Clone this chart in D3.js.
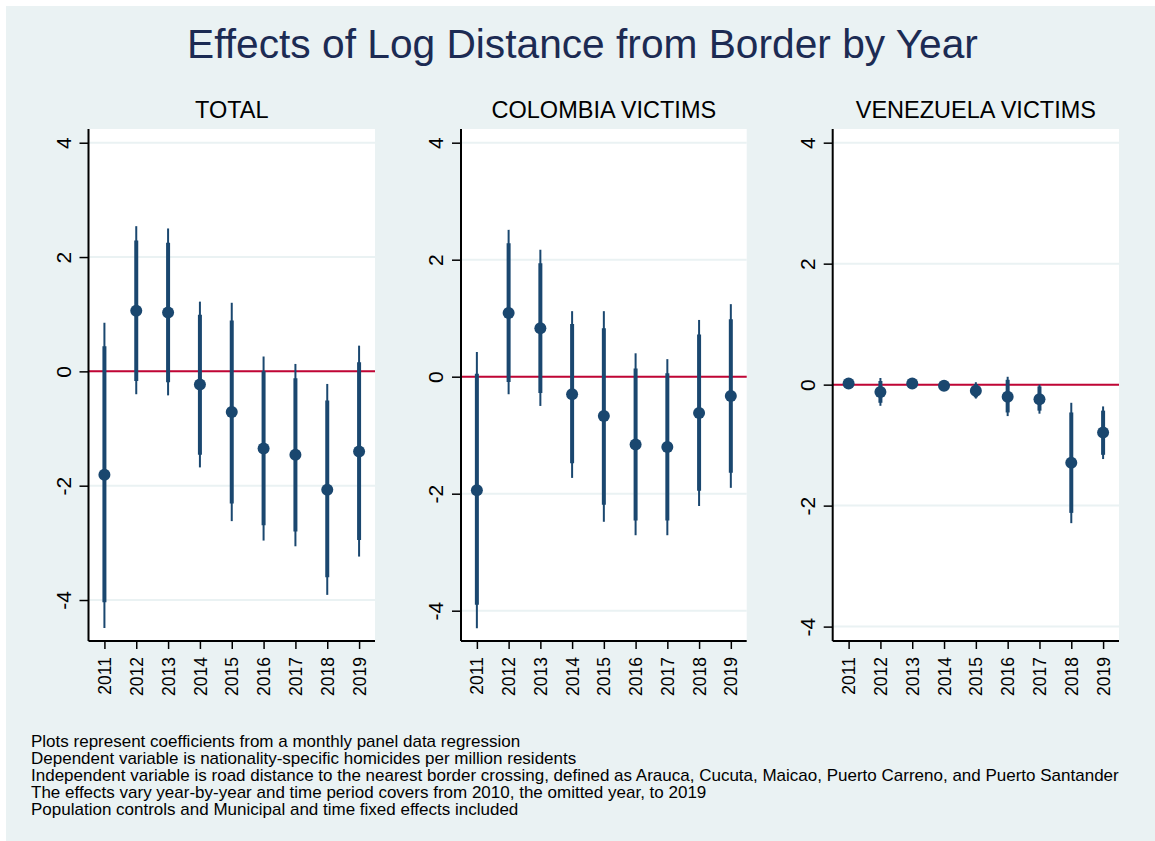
<!DOCTYPE html>
<html>
<head>
<meta charset="utf-8">
<script src="https://cdn.jsdelivr.net/npm/d3@7"></script>
<style>
  html, body { margin: 0; padding: 0; background: #ffffff; }
  svg { display: block; font-family: "Liberation Sans", Arial, Helvetica, sans-serif; }
</style>
</head>
<body>
<svg id="chart" width="1155" height="841"></svg>
<script>
// ---- data -------------------------------------------------------------
const years = [2011, 2012, 2013, 2014, 2015, 2016, 2017, 2018, 2019];
const yTicks = [-4, -2, 0, 2, 4];

const chartTitle = "Effects of Log Distance from Border by Year";
const panelTitles = ["TOTAL", "COLOMBIA VICTIMS", "VENEZUELA VICTIMS"];

// TOTAL
const totalCoef = [-1.81, 1.06, 1.03, -0.23, -0.71, -1.35, -1.46, -2.07, -1.40];
const totalLo90 = [-4.04, -0.17, -0.19, -1.46, -2.31, -2.69, -2.80, -3.60, -2.95];
const totalHi90 = [0.44, 2.29, 2.25, 0.99, 0.89, 0.00, -0.12, -0.51, 0.16];
const totalLo95 = [-4.49, -0.40, -0.42, -1.68, -2.62, -2.96, -3.06, -3.91, -3.24];
const totalHi95 = [0.85, 2.54, 2.50, 1.22, 1.20, 0.26, 0.13, -0.22, 0.45];

// COLOMBIA VICTIMS
const colCoef = [-1.94, 1.09, 0.83, -0.30, -0.67, -1.16, -1.20, -0.62, -0.33];
const colLo90 = [-3.90, -0.09, -0.28, -1.48, -2.19, -2.46, -2.46, -1.95, -1.64];
const colHi90 = [0.05, 2.28, 1.94, 0.90, 0.83, 0.14, 0.06, 0.72, 0.98];
const colLo95 = [-4.30, -0.30, -0.50, -1.73, -2.48, -2.71, -2.71, -2.21, -1.90];
const colHi95 = [0.42, 2.51, 2.17, 1.12, 1.12, 0.40, 0.30, 0.97, 1.24];

// VENEZUELA VICTIMS
const venCoef = [0.02, -0.12, 0.02, -0.02, -0.10, -0.20, -0.24, -1.29, -0.79];
const venLo90 = [-0.01, -0.30, -0.01, -0.05, -0.21, -0.46, -0.43, -2.12, -1.16];
const venHi90 = [0.05, 0.06, 0.05, 0.01, 0.01, 0.08, -0.03, -0.46, -0.43];
const venLo95 = [-0.02, -0.35, -0.02, -0.06, -0.23, -0.52, -0.48, -2.29, -1.23];
const venHi95 = [0.06, 0.11, 0.06, 0.02, 0.04, 0.13, 0.00, -0.30, -0.36];

const notes = [
  "Plots represent coefficients from a monthly panel data regression",
  "Dependent variable is nationality-specific homicides per million residents",
  "Independent variable is road distance to the nearest border crossing, defined as Arauca, Cucuta, Maicao, Puerto Carreno, and Puerto Santander",
  "The effects vary year-by-year and time period covers from 2010, the omitted year, to 2019",
  "Population controls and Municipal and time fixed effects included"
];

// ---- styling / layout -------------------------------------------------
const BG = "#eaf2f3";
const NAVY = "#1a476f";
const REFLINE = "#c10534";
const GRID = "#eaf2f3";
const TITLE_COLOR = "#1c2b53";

const panels = [
  { title: panelTitles[0], coef: totalCoef, lo90: totalLo90, hi90: totalHi90, lo95: totalLo95, hi95: totalHi95,
    left: 88.5, right: 375, yDomain: [-4.717, 4.24] },
  { title: panelTitles[1], coef: colCoef, lo90: colLo90, hi90: colHi90, lo95: colLo95, hi95: colHi95,
    left: 461, right: 746.7, yDomain: [-4.518, 4.234] },
  { title: panelTitles[2], coef: venCoef, lo90: venLo90, hi90: venHi90, lo95: venLo95, hi95: venHi95,
    left: 832.7, right: 1119, yDomain: [-4.238, 4.226] }
];
const plotTop = 129, plotBottom = 641;

const svg = d3.select("#chart");

// outer background
svg.append("rect").attr("x", 6).attr("y", 6).attr("width", 1155 - 6).attr("height", 841 - 6).attr("fill", BG);

// main title
svg.append("text")
  .attr("x", 582.5).attr("y", 58)
  .attr("text-anchor", "middle")
  .attr("font-size", 40.7)
  .attr("fill", TITLE_COLOR)
  .text(chartTitle);

panels.forEach(p => {
  const g = svg.append("g");
  const x = d3.scaleLinear().domain([years[0] - 0.5, years[years.length - 1] + 0.5]).range([p.left, p.right]);
  const y = d3.scaleLinear().domain(p.yDomain).range([plotBottom, plotTop]);

  // plot region
  g.append("rect")
    .attr("x", p.left).attr("y", plotTop)
    .attr("width", p.right - p.left).attr("height", plotBottom - plotTop)
    .attr("fill", "#ffffff");

  // horizontal grid lines
  g.selectAll("line.grid").data(yTicks).join("line")
    .attr("class", "grid")
    .attr("x1", p.left).attr("x2", p.right)
    .attr("y1", d => y(d)).attr("y2", d => y(d))
    .attr("stroke", GRID).attr("stroke-width", 2);

  // zero reference line
  g.append("line")
    .attr("x1", p.left).attr("x2", p.right)
    .attr("y1", y(0)).attr("y2", y(0))
    .attr("stroke", REFLINE).attr("stroke-width", 2);

  const idx = d3.range(years.length);

  // 95% intervals (thin)
  g.selectAll("line.ci95").data(idx).join("line")
    .attr("class", "ci95")
    .attr("x1", i => x(years[i])).attr("x2", i => x(years[i]))
    .attr("y1", i => y(p.lo95[i])).attr("y2", i => y(p.hi95[i]))
    .attr("stroke", NAVY).attr("stroke-width", 2);

  // 90% intervals (thick)
  g.selectAll("line.ci90").data(idx).join("line")
    .attr("class", "ci90")
    .attr("x1", i => x(years[i])).attr("x2", i => x(years[i]))
    .attr("y1", i => y(p.lo90[i])).attr("y2", i => y(p.hi90[i]))
    .attr("stroke", NAVY).attr("stroke-width", 4);

  // point estimates
  g.selectAll("circle.pt").data(idx).join("circle")
    .attr("class", "pt")
    .attr("cx", i => x(years[i])).attr("cy", i => y(p.coef[i]))
    .attr("r", 6)
    .attr("fill", NAVY);

  // y axis
  const yAxis = g.append("g")
    .attr("transform", `translate(${p.left},0)`)
    .call(d3.axisLeft(y).tickValues(yTicks).tickFormat(d => String(d)).tickSize(9).tickSizeOuter(0));
  yAxis.select(".domain").attr("stroke", "#000").attr("stroke-width", 2)
    .attr("d", `M0,${plotTop}V${plotBottom}`);
  yAxis.selectAll(".tick line").attr("stroke", "#000").attr("stroke-width", 1.5);
  yAxis.selectAll(".tick text")
    .attr("font-size", 21)
    .attr("fill", "#000")
    .attr("x", 0).attr("y", 0).attr("dy", 0)
    .attr("text-anchor", "middle")
    .attr("transform", "translate(-18,0) rotate(-90)");

  // x axis
  const xAxis = g.append("g")
    .attr("transform", `translate(0,${plotBottom})`)
    .call(d3.axisBottom(x).tickValues(years).tickFormat(d => String(d)).tickSize(8).tickSizeOuter(0));
  xAxis.select(".domain").attr("stroke", "#000").attr("stroke-width", 2)
    .attr("d", `M${p.left},0H${p.right}`);
  xAxis.selectAll(".tick line").attr("stroke", "#000").attr("stroke-width", 1.5);
  xAxis.selectAll(".tick text")
    .attr("font-size", 17.5)
    .attr("fill", "#000")
    .attr("x", 0).attr("y", 0).attr("dy", "0.35em")
    .attr("text-anchor", "end")
    .attr("transform", "translate(0,16) rotate(-90)");
  g.selectAll(".domain, .tick").attr("font-family", null);

  // panel title
  g.append("text")
    .attr("x", (p.left + p.right) / 2).attr("y", 117.5)
    .attr("text-anchor", "middle")
    .attr("font-size", 23.5)
    .attr("fill", "#000")
    .text(p.title);
});

// footnotes
svg.append("g").selectAll("text").data(notes).join("text")
  .attr("x", 31)
  .attr("y", (d, i) => 746.5 + i * 17.1)
  .attr("font-size", 17)
  .attr("fill", "#000")
  .text(d => d);
</script>
</body>
</html>
